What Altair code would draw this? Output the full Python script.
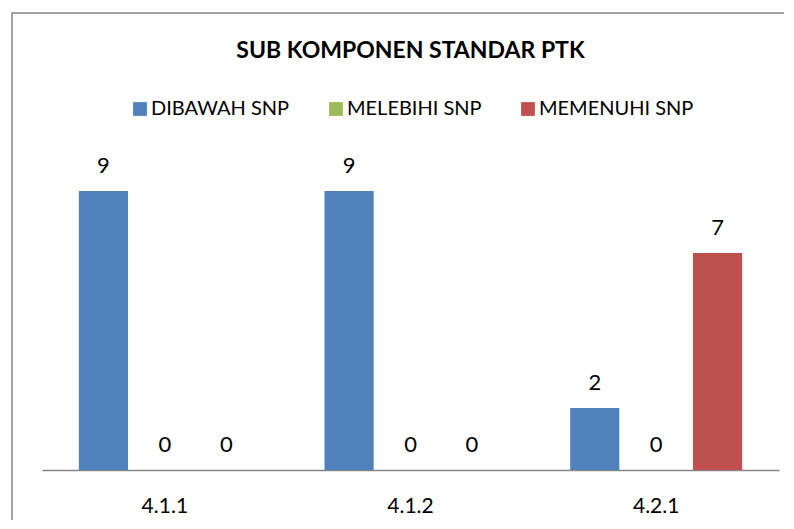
import altair as alt
import pandas as pd

categories = ["4.1.1", "4.1.2", "4.2.1"]
series = ["DIBAWAH SNP", "MELEBIHI SNP", "MEMENUHI SNP"]
dibawah = [9, 9, 2]
melebihi = [0, 0, 0]
memenuhi = [0, 0, 7]
colors = ["#4F81BD", "#9BBB59", "#C0504D"]

rows = []
for i, c in enumerate(categories):
    for s, vals in zip(series, [dibawah, melebihi, memenuhi]):
        rows.append({"kategori": c, "seri": s, "nilai": vals[i]})
df = pd.DataFrame(rows)

FONT = "Lato"

x = alt.X(
    "kategori:N", sort=categories,
    scale=alt.Scale(paddingInner=0, paddingOuter=0),
    axis=alt.Axis(title=None, labelAngle=0, ticks=False, tickSize=0,
                  labelPadding=42, labelBaseline="alphabetic", labelFontSize=21,
                  labelColor="black", domainColor="#868686", domainWidth=1.5,
                  labelFont=FONT, labelFontWeight="normal"),
)
xo = alt.XOffset("seri:N", sort=series, scale=alt.Scale(paddingInner=0.2, paddingOuter=0.6))
y = alt.Y("nilai:Q", scale=alt.Scale(domain=[0, 10]), axis=None)

bars = alt.Chart(df).mark_bar().encode(
    x=x, xOffset=xo, y=y,
    color=alt.Color(
        "seri:N", sort=series,
        scale=alt.Scale(domain=series, range=colors),
        legend=alt.Legend(
            title=None, orient="none", legendX=88, legendY=-61,
            direction="horizontal", symbolType="square", symbolSize=190,
            symbolStrokeWidth=0, labelFontSize=20, labelFont=FONT,
            labelColor="black", labelOffset=1, columnPadding=36, padding=0,
        ),
    ),
)

labels = alt.Chart(df).mark_text(
    baseline="alphabetic", dy=-18, fontSize=22, font=FONT, color="black"
).encode(x=x, xOffset=xo, y=y, text="nilai:Q")

border = alt.Chart(pd.DataFrame({"a": [0]})).mark_rect(
    fill=None, stroke="#868686", strokeWidth=1.5, clip=False
).encode(x=alt.value(-30), x2=alt.value(800), y=alt.value(-147), y2=alt.value(420))

chart = alt.layer(border, bars, labels).properties(
    width=737, height=310,
    title=alt.TitleParams(
        "SUB KOMPONEN STANDAR PTK", fontSize=23, font=FONT, fontWeight="bold",
        anchor="middle", frame="group", offset=-69, baseline="alphabetic", color="black",
    ),
    autosize=alt.AutoSizeParams(type="none"),
    padding={"left": 34, "top": 152, "right": 5, "bottom": 50},
).configure_view(stroke=None)

chart.save("out.html", embed_options={"renderer": "svg", "actions": False})
